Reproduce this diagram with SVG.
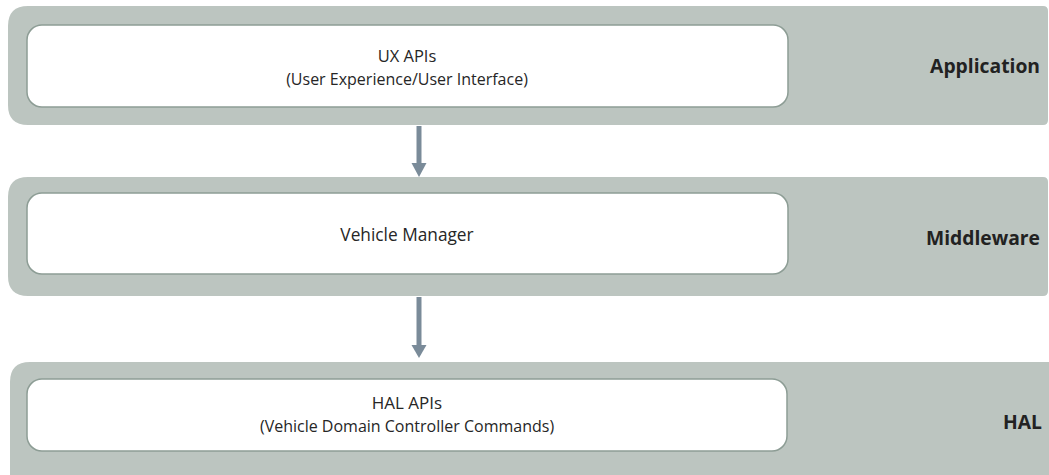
<svg xmlns="http://www.w3.org/2000/svg" width="1049" height="475" viewBox="0 0 1049 475">
<style>
.band{fill:#bcc5c0}
.box{fill:#ffffff;stroke:#8d9d95;stroke-width:1.5}
.t{font-family:"Open Sans","Noto Sans",sans-serif;font-size:16px;fill:#262626;text-anchor:middle}
.lbl{font-family:"Open Sans","Noto Sans",sans-serif;font-size:19.3px;font-weight:bold;fill:#222222;text-anchor:end}
.arr{stroke:#7a8b99;stroke-width:5;fill:none}
.head{fill:#7a8b99}
</style>
<rect width="1049" height="475" fill="#ffffff"/>
<g id="application">
<path class="band" d="M28,6 H1043 Q1048,6 1048,11 V120 Q1048,125 1043,125 H28 Q8,125 8,105 V26 Q8,6 28,6 Z"/>
<rect class="box" x="27" y="25" width="761" height="82" rx="15"/>
<text class="t" x="407" y="62" style="font-size:16.5px">UX APIs</text>
<text class="t" x="407" y="84.5">(User Experience/User Interface)</text>
<text class="lbl" x="1040" y="73">Application</text>
</g>
<g id="middleware">
<path class="band" d="M28,177 H1043 Q1048,177 1048,182 V291 Q1048,296 1043,296 H28 Q8,296 8,276 V197 Q8,177 28,177 Z"/>
<rect class="box" x="27" y="193" width="761" height="81" rx="15"/>
<text class="t" x="407" y="241" style="font-size:17.3px">Vehicle Manager</text>
<text class="lbl" x="1040" y="245">Middleware</text>
</g>
<g id="hal">
<path class="band" d="M30,362 H1049 V475 H10 V382 Q10,362 30,362 Z"/>
<rect class="box" x="27" y="379" width="760" height="72" rx="15"/>
<text class="t" x="407" y="409" style="font-size:17px">HAL APIs</text>
<text class="t" x="407" y="432">(Vehicle Domain Controller Commands)</text>
<text class="lbl" x="1042" y="429">HAL</text>
</g>
<g id="connectors">
<line class="arr" x1="419" y1="126" x2="419" y2="164"/>
<polygon class="head" points="411.5,163 426.5,163 419,177"/>
<line class="arr" x1="419" y1="297" x2="419" y2="346"/>
<polygon class="head" points="411.5,345 426.5,345 419,358"/>
</g>
</svg>
